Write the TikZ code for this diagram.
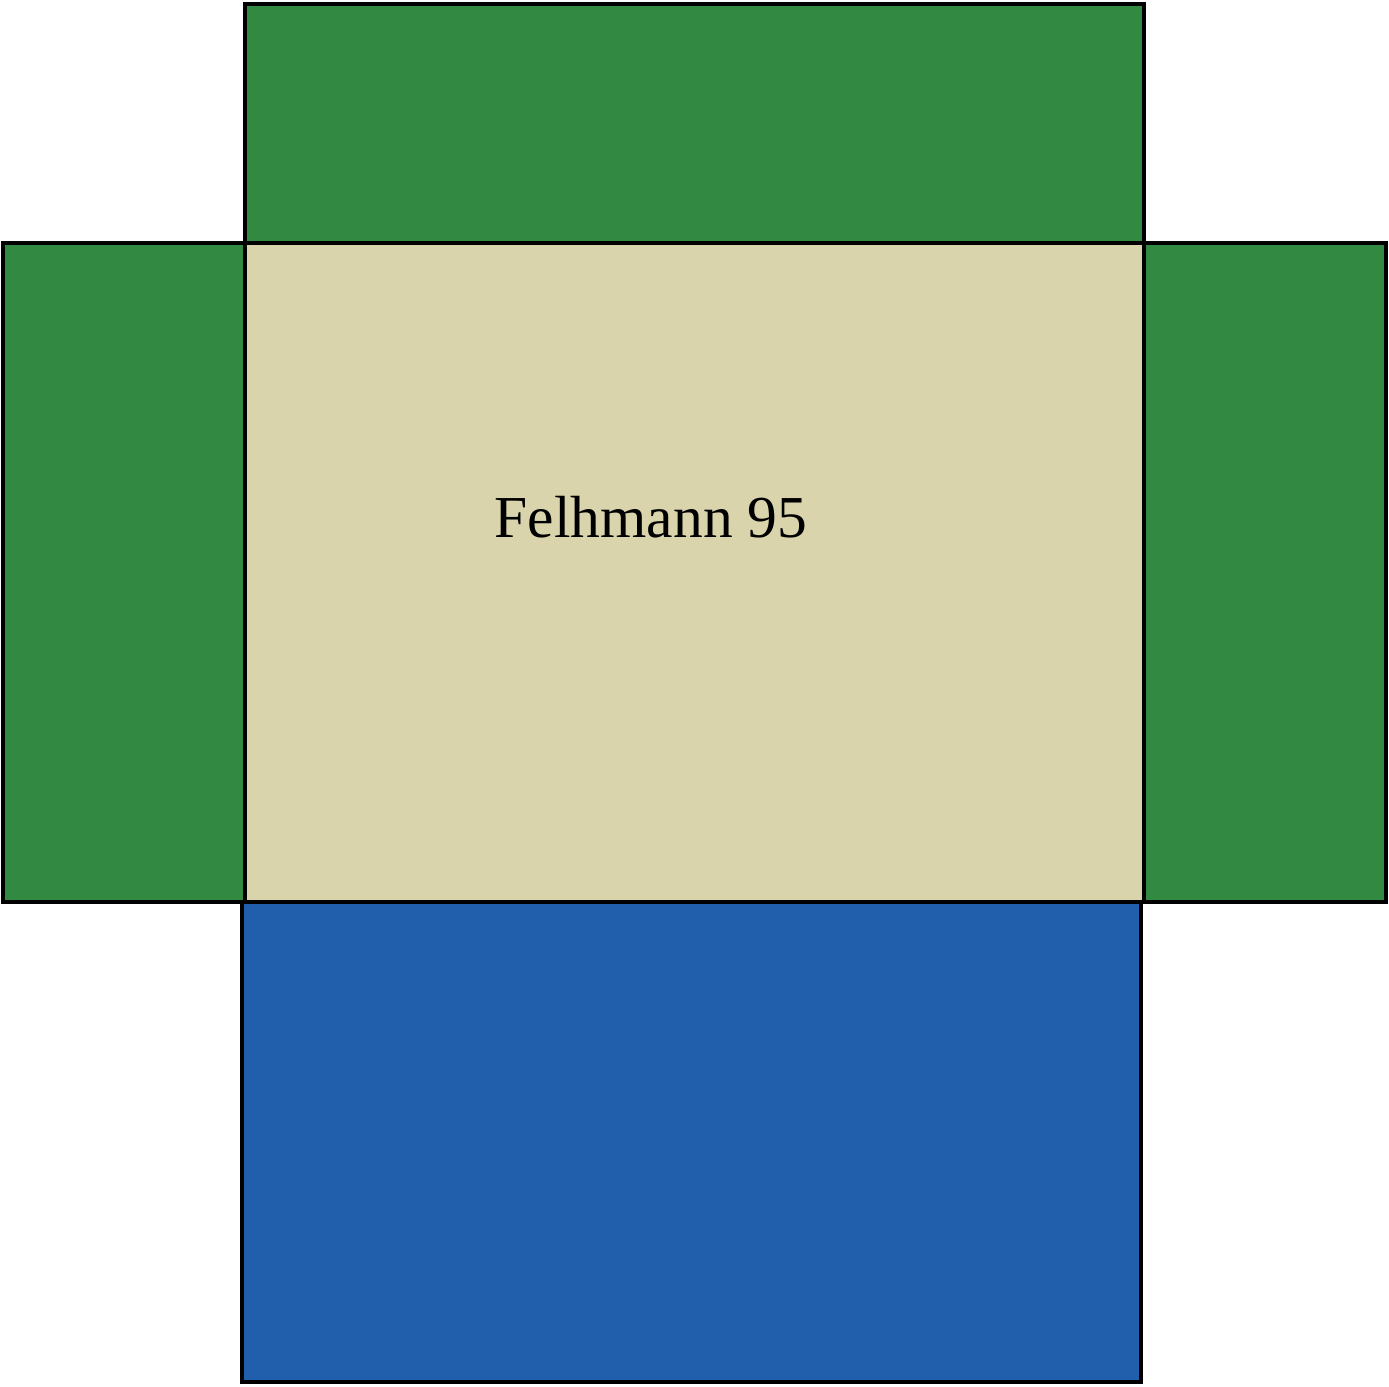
\documentclass[tikz,border=0pt]{standalone}
\usepackage{fontspec}
\setmainfont{Liberation Serif}
\definecolor{fgreen}{RGB}{50,137,65}
\definecolor{fbeige}{RGB}{218,212,173}
\definecolor{fblue}{RGB}{33,94,172}
\begin{document}
\begin{tikzpicture}[x=0.75pt,y=-0.75pt,
  panel/.style={draw=black,line width=2.5pt,line join=miter}]
\useasboundingbox (0,0) rectangle (1389,1386);
\fill[white] (0,0) rectangle (1389,1386);
\draw[panel,fill=fgreen] (245,4) rectangle (1144,243);
\draw[panel,fill=fgreen] (3,243) rectangle (245,902);
\draw[panel,fill=fgreen] (1144,243) rectangle (1386,902);
\draw[panel,fill=fblue] (242,902) rectangle (1141,1382);
\draw[panel,fill=fbeige] (245,243) rectangle (1144,902);
\node[anchor=base,font=\fontsize{44.6}{52}\selectfont,inner sep=0pt] (label) at (651,537) {Felhmann 95};
\end{tikzpicture}
\end{document}
